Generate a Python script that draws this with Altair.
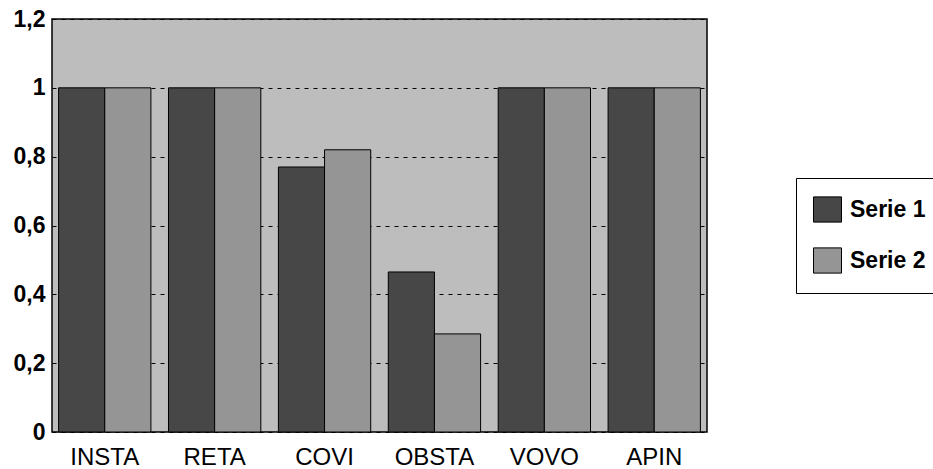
import altair as alt
import pandas as pd

categories = ["INSTA", "RETA", "COVI", "OBSTA", "VOVO", "APIN"]
serie1 = [1.0, 1.0, 0.77, 0.465, 1.0, 1.0]
serie2 = [1.0, 1.0, 0.82, 0.285, 1.0, 1.0]
series_names = ["Serie 1", "Serie 2"]
y_ticks = [0, 0.2, 0.4, 0.6, 0.8, 1.0, 1.2]

rows = []
for c, a, b in zip(categories, serie1, serie2):
    rows.append({"cat": c, "serie": series_names[0], "value": a})
    rows.append({"cat": c, "serie": series_names[1], "value": b})
df = pd.DataFrame(rows)

FONT = "Liberation Sans"

bars = alt.Chart(df).mark_bar(stroke="black", strokeWidth=1).encode(
    x=alt.X("cat:N", sort=categories, title=None,
            scale=alt.Scale(paddingInner=0.16, paddingOuter=0.06),
            axis=alt.Axis(labelAngle=0, ticks=False, domain=False, grid=False,
                          labelFont=FONT, labelFontSize=24, labelFontWeight="normal",
                          labelColor="black", labelPadding=13)),
    xOffset=alt.XOffset("serie:N", scale=alt.Scale(paddingInner=0, paddingOuter=0)),
    y=alt.Y("value:Q", title=None,
            scale=alt.Scale(domain=[0, 1.2], nice=False),
            axis=alt.Axis(values=y_ticks, ticks=False, domain=False,
                          labelExpr="replace(format(datum.value, '~g'), '.', ',')",
                          labelFont=FONT, labelFontSize=23, labelFontWeight="bold",
                          labelColor="black", labelPadding=7,
                          grid=True, gridColor="black", gridDash=[4, 5],
                          gridWidth=1.2, gridOpacity=1)),
    color=alt.Color("serie:N",
                    scale=alt.Scale(domain=series_names, range=["#474747", "#959595"]),
                    legend=alt.Legend(title=None, orient="none", legendX=744, legendY=159,
                                      symbolType="M-1,-0.9H1V0.9H-1Z", symbolSize=784,
                                      symbolStrokeColor="black", symbolStrokeWidth=1,
                                      labelFont=FONT, labelFontSize=23, labelFontWeight="bold",
                                      labelColor="black", labelOffset=8,
                                      padding=17, rowPadding=20,
                                      strokeColor="black", fillColor="white")),
)

chart = bars.properties(
    width=655, height=413,
    autosize=alt.AutoSizeParams(type="none"),
    padding={"left": 52, "top": 19, "right": 226, "bottom": 37},
    background="white",
).configure_view(
    fill="#bdbdbd", stroke="black", strokeWidth=1.5
)

chart.save("out.html", embed_options={"renderer": "svg", "actions": False})
